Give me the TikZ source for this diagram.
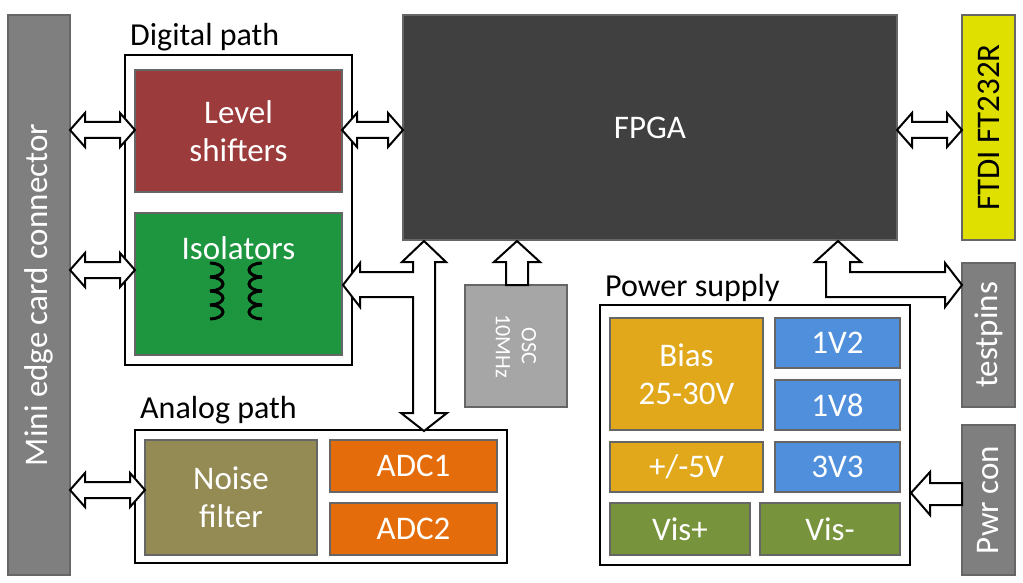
\documentclass[tikz,border=0pt]{standalone}
\usepackage{fontspec}
\setmainfont{Carlito}
\usetikzlibrary{calc}

\definecolor{cgray}{HTML}{7F7F7F}
\definecolor{cred}{HTML}{9B3B3B}
\definecolor{cgreen}{HTML}{1E9640}
\definecolor{cfpga}{HTML}{404040}
\definecolor{cyel}{HTML}{E0E000}
\definecolor{cosc}{HTML}{A6A6A6}
\definecolor{colive}{HTML}{948A54}
\definecolor{corange}{HTML}{E46C0A}
\definecolor{cgold}{HTML}{E0A81A}
\definecolor{cblue}{HTML}{4F8FDC}
\definecolor{cvis}{HTML}{77933C}

\tikzset{
    blk/.style={draw=black!60, line width=1.2pt, inner sep=0pt, text=white, align=center,
        font=\fontsize{33}{38}\selectfont},
    side/.style={rotate=90, font=\fontsize{33}{38}\selectfont},
    frame/.style={draw=black, line width=1.5pt, fill=white, inner sep=0pt},
    ttl/.style={anchor=west, inner sep=0pt, font=\fontsize{32}{36}\selectfont},
    barrow/.style={draw=black, line width=2pt, fill=white, line join=miter},
}

% horizontal double block arrow: x1, x2, y
\newcommand{\hdarrow}[3]{%
    \draw[barrow] (#1,#3) -- ++(15,-17) -- ++(0,9) -- ($(#2,#3)+(-15,-8)$) -- ++(0,-9)
        -- (#2,#3) -- ++(-15,17) -- ++(0,-9) -- ($(#1,#3)+(15,8)$) -- ++(0,9) -- cycle;}

\begin{document}
\begin{tikzpicture}[x=1pt,y=-1pt]
    \useasboundingbox (0,0) rectangle (1023,583);

    %CONNECTORS
    \node[blk, fill=cgray, minimum width=62, minimum height=560] (edge) at (39,295) {};
    \node[side, text=white] at (edge) {Mini edge card connector};
    \node[blk, fill=cyel, minimum width=53, minimum height=225, text=black] (ftdi) at (988.5,127.5) {};
    \node[side] at (ftdi) {FTDI FT232R};
    \node[blk, fill=cgray, minimum width=53, minimum height=144] (test) at (988.5,335) {};
    \node[side, text=white] at (test) {testpins};
    \node[blk, fill=cgray, minimum width=53, minimum height=150] (pwr) at (988.5,500) {};
    \node[side, text=white] at (pwr) {Pwr con};

    %DIGITAL
    \node[frame, minimum width=227, minimum height=310] (dig) at (238.5,210) {};
    \node[ttl] at (130,37) {Digital path};
    \node[blk, fill=cred, minimum width=207, minimum height=122] (lvl) at (238.5,131) {Level\\shifters};
    \node[blk, fill=cgreen, minimum width=207, minimum height=142] (iso) at (238.5,284) {};
    \node[text=white, font=\fontsize{33}{38}\selectfont] at (238.5,248) {Isolators};
    \foreach \i in {0,1,2,3} {
        \draw[line width=3pt] (210,277+14*\i) arc[start angle=90, end angle=-90, x radius=13, y radius=7];
        \draw[line width=3pt] (262,277+14*\i) arc[start angle=90, end angle=270, x radius=13, y radius=7];
    }

    %FPGA + OSC
    \node[blk, fill=cfpga, minimum width=494, minimum height=225] (fpga) at (650,127.5) {FPGA};
    \node[blk, fill=cosc, minimum width=102, minimum height=122] (osc) at (516,346) {};
    \node[rotate=-90, text=white, align=center, font=\fontsize{22}{26}\selectfont] at (osc) {OSC\\10MHz};

    %ANALOG
    \node[frame, minimum width=372, minimum height=133] (ana) at (321,496.5) {};
    \node[ttl] at (140,410) {Analog path};
    \node[blk, fill=colive, minimum width=172, minimum height=115] (noise) at (231,497.5) {Noise\\filter};
    \node[blk, fill=corange, minimum width=167, minimum height=52] (adc1) at (413.5,466) {ADC1};
    \node[blk, fill=corange, minimum width=167, minimum height=52] (adc2) at (413.5,529) {ADC2};

    %POWER
    \node[frame, minimum width=310, minimum height=260] (psu) at (755,435) {};
    \node[ttl] at (605,288) {Power supply};
    \node[blk, fill=cgold, minimum width=153, minimum height=112] (bias) at (686.5,374) {Bias\\25-30V};
    \node[blk, fill=cblue, minimum width=125, minimum height=50] (v12) at (837.5,343) {1V2};
    \node[blk, fill=cblue, minimum width=125, minimum height=50] (v18) at (837.5,405) {1V8};
    \node[blk, fill=cgold, minimum width=153, minimum height=50] (pm5) at (686.5,467) {+/-5V};
    \node[blk, fill=cblue, minimum width=125, minimum height=50] (v33) at (837.5,467) {3V3};
    \node[blk, fill=cvis, minimum width=140, minimum height=52] (visp) at (680,529) {Vis+};
    \node[blk, fill=cvis, minimum width=140, minimum height=52] (visn) at (830,529) {Vis-};

    %ARROWS
    \hdarrow{70}{135}{130}
    \hdarrow{70}{135}{270}
    \hdarrow{70}{145}{490}
    \hdarrow{342}{403}{130}
    \hdarrow{897}{962}{130}
    \draw[barrow] (517,241) -- (540,262) -- (528,262) -- (528,285) -- (506,285) -- (506,262) -- (494,262) -- cycle;
    \draw[barrow] (424,241) -- (446,262) -- (435,262) -- (435,413) -- (447,413) -- (424,431)
        -- (401,413) -- (413,413) -- (413,297) -- (360,297) -- (360,307) -- (343,285)
        -- (360,263) -- (360,272) -- (413,272) -- (413,262) -- (402,262) -- cycle;
    \draw[barrow] (838,241) -- (861,262) -- (850,262) -- (850,272) -- (945,272) -- (945,263)
        -- (962,285) -- (945,307) -- (945,297) -- (826,297) -- (826,262) -- (815,262) -- cycle;
    \draw[barrow] (911,493) -- (930,472) -- (930,483) -- (962,483) -- (962,505) -- (930,505) -- (930,515) -- cycle;
\end{tikzpicture}
\end{document}
